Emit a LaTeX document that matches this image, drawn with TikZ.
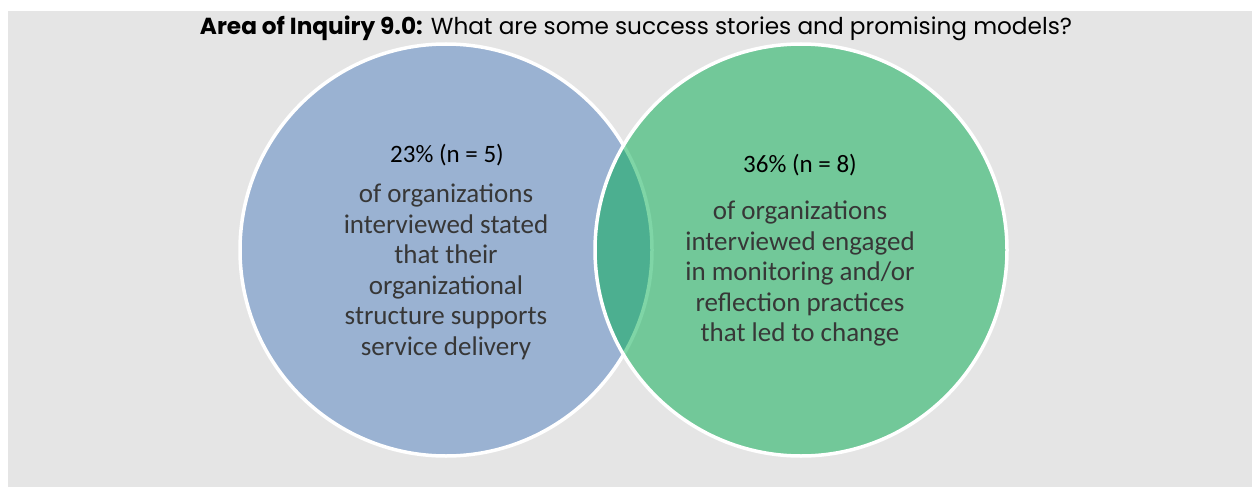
\documentclass[tikz,border=0pt]{standalone}
\usepackage{fontspec}
\setmainfont{Carlito}
\newfontfamily\titlefont{Poppins}
\definecolor{bgray}{RGB}{229,229,229}
\definecolor{cblue}{RGB}{154,178,210}
\definecolor{cgreen}{RGB}{0,173,79}
\definecolor{ctext}{RGB}{55,55,55}
\tikzset{
  circ/.style={line width=3.5pt, draw=white},
  body/.style={align=center, font=\fontsize{27}{30.5}\selectfont, text=ctext, inner sep=0pt},
  head/.style={font=\fontsize{25}{30}\selectfont, text=black, inner sep=0pt},
}
\begin{document}
\begin{tikzpicture}[x=1pt,y=-1pt]
\useasboundingbox (0,0) rectangle (1252,487);
\fill[bgray] (8,11) rectangle (1252,487);
\node[font=\titlefont\fontsize{23.2}{26}\selectfont, inner sep=0pt] (title) at (636,28)
  {\textbf{Area of Inquiry 9.0:} What are some success stories and promising models?};
\fill[cblue] (446,250) circle (206);
\draw[circ] (446,250) circle (206);
\fill[cgreen, fill opacity=0.5] (801,250) circle (206);
\draw[circ] (801,250) circle (206);
\node[head] (lh) at (447,155) {23\% (n = 5)};
\node[body, anchor=north] (lb) at (446,184) {of organizations\\interviewed stated\\that their\\organizational\\structure supports\\service delivery};
\node[head] (rh) at (800,165) {36\% (n = 8)};
\node[body, anchor=north] (rb) at (800,201) {of organizations\\interviewed engaged\\in monitoring and/or\\reflection practices\\that led to change};
\end{tikzpicture}
\end{document}
